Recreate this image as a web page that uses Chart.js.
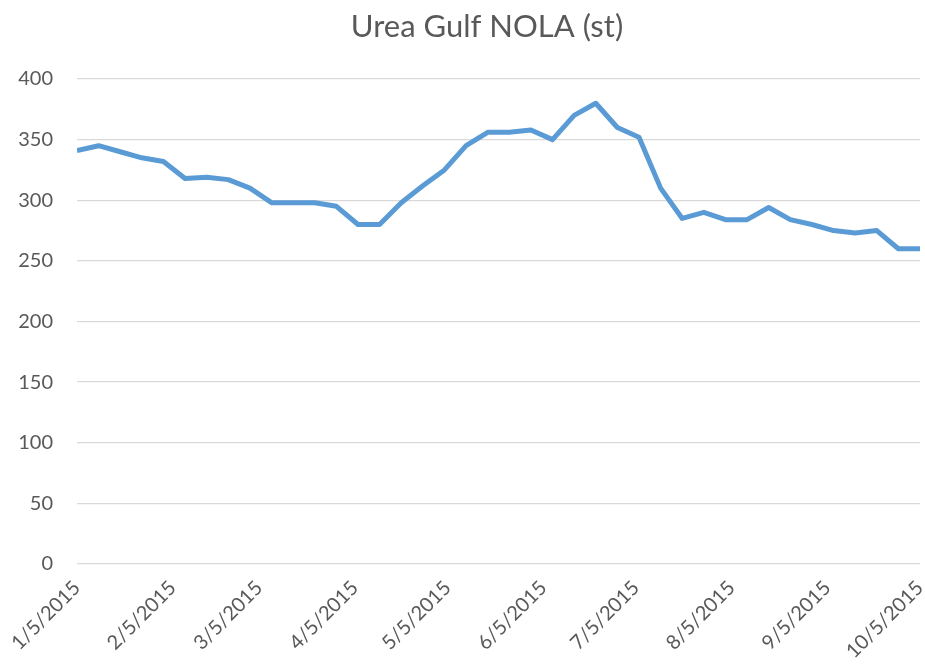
<!DOCTYPE html>
<html>
<head>
<meta charset="utf-8">
<script src="https://cdn.jsdelivr.net/npm/chart.js@4"></script>
<style>
  html, body { margin: 0; padding: 0; background: #ffffff; }
  #wrap { width: 925px; height: 669px; position: relative; }
</style>
</head>
<body>
<div id="wrap"><canvas id="c" width="925" height="669"></canvas></div>
<script>
// Weekly dates (Mondays) and values
const weekDates = [
  "1/5/2015","1/12/2015","1/19/2015","1/26/2015",
  "2/2/2015","2/9/2015","2/16/2015","2/23/2015",
  "3/2/2015","3/9/2015","3/16/2015","3/23/2015","3/30/2015",
  "4/6/2015","4/13/2015","4/20/2015","4/27/2015",
  "5/4/2015","5/11/2015","5/18/2015","5/25/2015",
  "6/1/2015","6/8/2015","6/15/2015","6/22/2015","6/29/2015",
  "7/6/2015","7/13/2015","7/20/2015","7/27/2015",
  "8/3/2015","8/10/2015","8/17/2015","8/24/2015","8/31/2015",
  "9/7/2015","9/14/2015","9/21/2015","9/28/2015",
  "10/5/2015"
];
const ureaPrices = [
  341, 345, 340, 335,
  332, 318, 319, 317,
  310, 298, 298, 298, 295,
  280, 280, 298, 312,
  325, 345, 356, 356,
  358, 350, 370, 380, 360,
  352, 310, 285, 290,
  284, 284, 294, 284, 280,
  275, 273, 275, 260,
  260
];
const tickDates = ["1/5/2015","2/5/2015","3/5/2015","4/5/2015","5/5/2015","6/5/2015","7/5/2015","8/5/2015","9/5/2015","10/5/2015"];
const yTicks = [0, 50, 100, 150, 200, 250, 300, 350, 400];
const chartTitle = 'Urea Gulf NOLA (st)';

function dayNum(s) {
  const [m, d, y] = s.split('/').map(Number);
  return Math.round(Date.UTC(y, m - 1, d) / 86400000);
}
const base = dayNum(weekDates[0]);
const points = weekDates.map((d, i) => ({ x: dayNum(d) - base, y: ureaPrices[i] }));
const tickPos = tickDates.map(d => dayNum(d) - base);

const FONT = "Lato, 'Open Sans', sans-serif";
const GREY = '#595959';

const titlePlugin = {
  id: 'excelTitle',
  afterDraw(chart) {
    const ctx = chart.ctx;
    ctx.save();
    ctx.fillStyle = GREY;
    ctx.font = "31px " + FONT;
    ctx.textAlign = 'center';
    ctx.textBaseline = 'alphabetic';
    ctx.fillText(chartTitle, 487, 37);
    ctx.restore();
  }
};

new Chart(document.getElementById('c'), {
  type: 'line',
  data: {
    datasets: [{
      data: points,
      borderColor: '#5b9bd5',
      borderWidth: 5,
      pointRadius: 0,
      tension: 0,
      fill: false,
      borderJoinStyle: 'round',
      borderCapStyle: 'butt'
    }]
  },
  plugins: [titlePlugin],
  options: {
    responsive: false,
    animation: false,
    layout: { padding: { left: 0, right: 5, top: 79, bottom: 0 } },
    plugins: {
      legend: { display: false },
      tooltip: { enabled: false },
      title: { display: false }
    },
    scales: {
      x: {
        type: 'linear',
        min: tickPos[0],
        max: tickPos[tickPos.length - 1],
        afterBuildTicks: (s) => { s.ticks = tickPos.map(v => ({ value: v })); },
        afterFit: (s) => { s.height = 105; s.paddingLeft = 0; s.paddingRight = 0; },
        grid: { display: false, drawTicks: false },
        border: { display: false },
        ticks: {
          color: GREY,
          font: { family: FONT, size: 20 },
          minRotation: 45,
          maxRotation: 45,
          autoSkip: false,
          padding: 12,
          callback: (v) => {
            const i = tickPos.indexOf(v);
            return i >= 0 ? tickDates[i] : '';
          }
        }
      },
      y: {
        min: 0,
        max: 400,
        afterBuildTicks: (s) => { s.ticks = yTicks.map(v => ({ value: v })); },
        afterFit: (s) => { s.width = 77; s.paddingTop = 0; s.paddingBottom = 0; },
        grid: { color: '#d9d9d9', lineWidth: 1.3, drawTicks: false },
        border: { display: false },
        ticks: {
          color: GREY,
          font: { family: FONT, size: 20 },
          padding: 24
        }
      }
    }
  }
});
</script>
</body>
</html>
